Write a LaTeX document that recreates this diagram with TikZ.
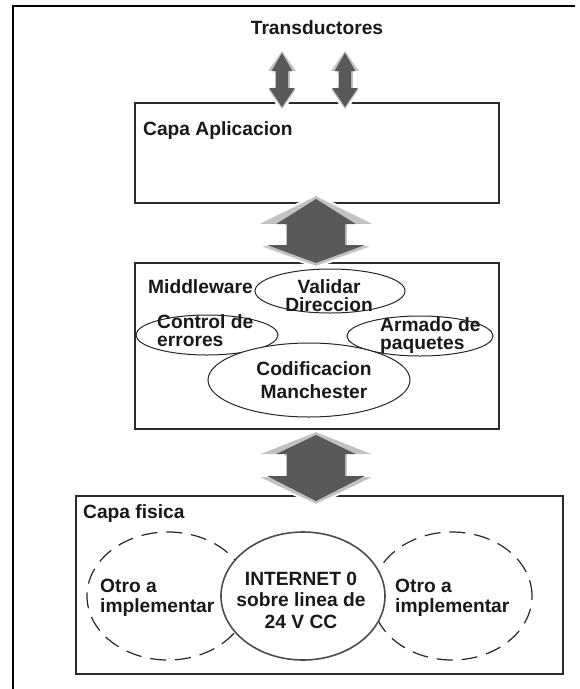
\documentclass[tikz,border=0pt]{standalone}
\usepackage{fontspec}
\setmainfont{Liberation Sans}
\usetikzlibrary{shapes.geometric}
\definecolor{boxline}{HTML}{2B2B2B}
\definecolor{arrdark}{HTML}{595959}
\definecolor{arrlight}{HTML}{C2C2C2}
\newcommand\leftlines[1]{\vtop{\halign{##\hfil\cr#1\crcr}}}
\newcommand\midlines[1]{\vtop{\halign{\hfil##\hfil\cr#1\crcr}}}
% block arrow: cx, top tip, upper head base, lower head base, bottom tip, head half width, body half width
\newcommand\blockarrow[7]{%
  \fill[arrlight, draw=white, line width=2pt]
    (#1,#2) -- (#1-#6,#3) -- (#1-#7,#3) -- (#1-#7,#4) -- (#1-#6,#4) -- (#1,#5)
    -- (#1+#6,#4) -- (#1+#7,#4) -- (#1+#7,#3) -- (#1+#6,#3) -- cycle;
  \draw[white, line width=1pt] (#1-#6+3,#3+1) -- (#1-#7+1,#3+1) -- (#1-#7+1,#4-1);
  \draw[white, line width=1pt] (#1+#7+1,#4-1) -- (#1+#7+1,#3+1) -- (#1+#6-3,#3+1);
  \fill[arrdark]
    (#1,#2+4) -- (#1-0.65*#6,#3-1) -- (#1-#7+3,#3-1) -- (#1-#7+3,#4) -- (#1-0.8*#6,#4) -- (#1,#5-4)
    -- (#1+0.8*#6,#4) -- (#1+#7-3,#4) -- (#1+#7-3,#3-1) -- (#1+0.65*#6,#3-1) -- cycle;
}
\tikzset{
  layer/.style={draw=boxline, line width=2pt, fill=white, inner sep=0},
  bubble/.style={ellipse, draw=black!85, line width=1pt, fill=white, inner sep=0},
  dashbubble/.style={ellipse, draw=black!85, line width=1.2pt, dash pattern=on 16pt off 9pt, inner sep=0},
  lbl/.style={font=\fontsize{19.2}{18}\selectfont\bfseries, inner sep=0, text=black!90},
}
\begin{document}
\begin{tikzpicture}[x=1pt,y=-1pt]
\useasboundingbox (0,0) rectangle (580,689);
\fill[white] (0,0) rectangle (580,689);
% outer frame (left and top edges)
\coordinate (fbl) at (13,689);
\coordinate (ftl) at (13,6);
\coordinate (ftr) at (575,6);
\draw[black, line width=1.5pt] (fbl) -- (ftl) -- (ftr);

% layer boxes
\node[layer, minimum width=364pt, minimum height=100pt] (app) at (317,153) {};
\node[layer, minimum width=364pt, minimum height=166pt] (mid) at (317,346) {};
\node[layer, minimum width=487pt, minimum height=178pt] (fis) at (319.5,585) {};

% block arrows
\blockarrow{282}{49}{72}{88}{111}{16}{9}
\blockarrow{345}{49}{72}{88}{111}{16}{9}
\blockarrow{316}{195}{225}{245}{267}{61}{32}
\blockarrow{316}{431}{455}{476}{505}{61}{32}

% labels of layers
\node[lbl, anchor=base] (trans) at (317,34) {Transductores};
\node[lbl, anchor=base west] (lapp) at (143,135) {Capa Aplicacion};
\node[lbl, anchor=base west] (lmid) at (148,293) {Middleware};
\node[lbl, anchor=base west] (lfis) at (83,518) {Capa fisica};

% middleware bubbles
\node[bubble, minimum width=142pt, minimum height=40pt] (ctrl) at (207,335) {};
\node[bubble, minimum width=146pt, minimum height=40pt] (arm) at (420,336) {};
\node[bubble, minimum width=150pt, minimum height=44pt] (val) at (330,291) {};
\node[bubble, minimum width=202pt, minimum height=74pt] (cod) at (309,380) {};

\node[lbl, anchor=base] (tval) at (329,293) {\midlines{Validar\cr Direccion}};
\node[lbl, anchor=base west] (tctrl) at (157,328) {\leftlines{Control de\cr errores}};
\node[lbl, anchor=base west] (tarm) at (380,331) {\leftlines{Armado de\cr paquetes}};
\node[lbl, anchor=base, font=\fontsize{19.2}{23}\selectfont\bfseries] (tcod) at (314,375) {\midlines{Codificacion\cr Manchester}};

% physical layer bubbles
\node[dashbubble, minimum width=162pt, minimum height=128pt] (otro1) at (168,596) {};
\node[dashbubble, minimum width=160pt, minimum height=128pt] (otro2) at (452,596) {};
\node[bubble, draw=black!70, line width=1.6pt, minimum width=164pt, minimum height=128pt] (inet) at (303,596) {};

\node[lbl, anchor=base west, font=\fontsize{19.2}{20}\selectfont\bfseries] (totro1) at (100,592) {\leftlines{Otro a\cr implementar}};
\node[lbl, anchor=base west, font=\fontsize{19.2}{20}\selectfont\bfseries] (totro2) at (395,592) {\leftlines{Otro a\cr implementar}};
\node[lbl, anchor=base, font=\fontsize{19.2}{21.5}\selectfont\bfseries] (tinet) at (301,585) {\midlines{INTERNET 0\cr sobre linea de\cr 24 V CC}};
\end{tikzpicture}
\end{document}
